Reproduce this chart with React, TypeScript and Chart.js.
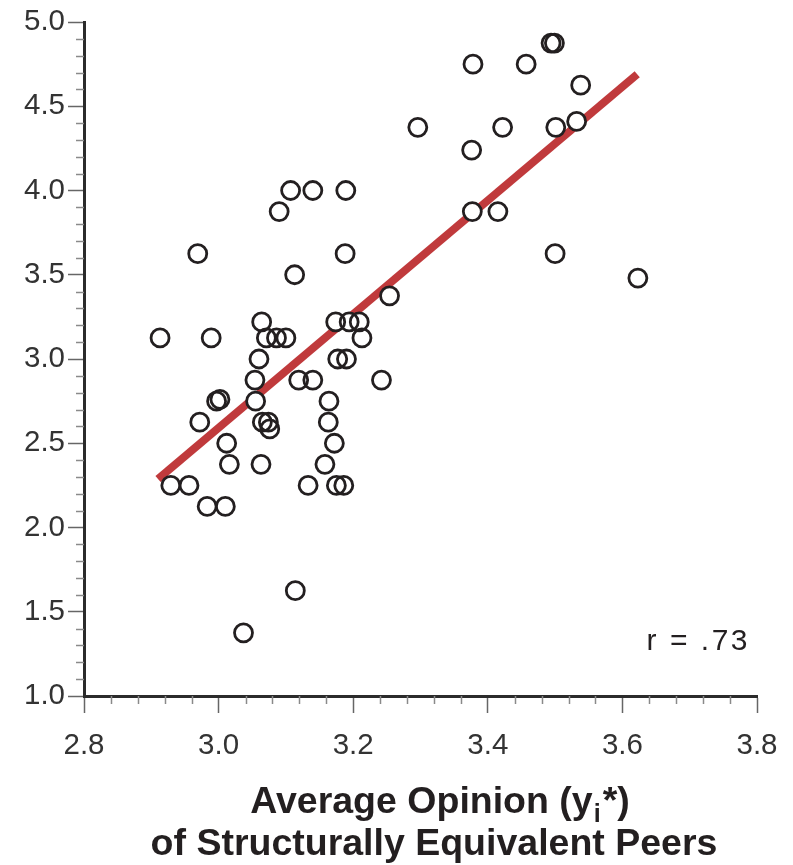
import React, { useEffect, useRef } from "react";
import { Chart, registerables } from "chart.js";

Chart.register(...registerables);

const xValues = [
  3.107, 3.14, 3.189, 3.09, 2.969, 3.188, 3.113, 3.254, 3.064, 2.913,
  2.989, 3.071, 3.086, 3.1, 3.174, 3.194, 3.209, 3.213, 3.06, 3.054,
  2.997, 3.002, 3.055, 2.972, 3.065, 3.074, 3.076, 3.012, 3.016, 3.063,
  2.929, 2.956, 2.983, 3.01, 3.119, 3.14, 3.177, 3.19, 3.242, 3.164,
  3.163, 3.172, 3.158, 3.133, 3.175, 3.186, 3.114, 3.037, 3.494, 3.499,
  3.378, 3.457, 3.538, 3.296, 3.422, 3.501, 3.532, 3.376, 3.377, 3.415,
  3.5, 3.623,
];
const yValues = [
  4.0, 4.0, 4.0, 3.875, 3.625, 3.625, 3.5, 3.375, 3.22, 3.125,
  3.125, 3.125, 3.125, 3.125, 3.22, 3.22, 3.22, 3.125, 3.0, 2.875,
  2.75, 2.76, 2.75, 2.625, 2.625, 2.625, 2.585, 2.5, 2.375, 2.375,
  2.25, 2.25, 2.125, 2.125, 2.875, 2.875, 3.0, 3.0, 2.875, 2.75,
  2.625, 2.5, 2.375, 2.25, 2.25, 2.25, 1.625, 1.375, 4.875, 4.875,
  4.75, 4.75, 4.625, 4.375, 4.375, 4.375, 4.41, 4.24, 3.875, 3.875,
  3.625, 3.48,
];
const fitX = [2.91, 3.622];
const fitY = [2.288, 4.69];

const xTickMin = 2.8;
const xTickMax = 3.8;
const xTickStep = 0.2;
const yTickMin = 1.0;
const yTickMax = 5.0;
const yTickStep = 0.5;

const titleLine1a = "Average Opinion (y";
const titleLine1Sub = "i";
const titleLine1b = "*)";
const titleLine2 = "of Structurally Equivalent Peers";
const rLabel = "r = .73";

const FONT = "'Liberation Sans', Arial, Helvetica, sans-serif";
const INK = "#231f20";

const points = xValues.map((x, i) => ({ x, y: yValues[i] }));
const fitPoints = fitX.map((x, i) => ({ x, y: fitY[i] }));

const extrasPlugin = {
  id: "extras",
  afterDraw(chart: any) {
    const ctx = chart.ctx;
    const xs = chart.scales.x;
    const ys = chart.scales.y;
    const area = chart.chartArea;
    ctx.save();
    // minor ticks
    ctx.strokeStyle = "#8a8a8a";
    ctx.lineWidth = 1.5;
    for (let k = 0; k <= 40; k++) {
      if (k % 5 === 0) continue;
      const v = yTickMin + k * 0.1;
      const py = Math.round(ys.getPixelForValue(v)) + 0.5;
      ctx.beginPath();
      ctx.moveTo(area.left - 8, py);
      ctx.lineTo(area.left, py);
      ctx.stroke();
    }
    for (let k = 0; k <= 25; k++) {
      if (k % 5 === 0) continue;
      const v = xTickMin + k * 0.04;
      const px = Math.round(xs.getPixelForValue(v)) + 0.5;
      ctx.beginPath();
      ctx.moveTo(px, area.bottom);
      ctx.lineTo(px, area.bottom + 8);
      ctx.stroke();
    }
    // r label
    ctx.fillStyle = INK;
    ctx.textAlign = "right";
    ctx.textBaseline = "alphabetic";
    ctx.font = `30px ${FONT}`;
    (ctx as any).letterSpacing = "2.5px";
    ctx.fillText(rLabel, area.right - 7, area.bottom - 46);
    (ctx as any).letterSpacing = "0px";
    // axis title
    ctx.textAlign = "left";
    const cx1 = 440;
    const cx2 = 434;
    ctx.font = `bold 37.5px ${FONT}`;
    const wa = ctx.measureText(titleLine1a).width;
    const wb = ctx.measureText(titleLine1b).width;
    ctx.font = `bold 25px ${FONT}`;
    const ws = ctx.measureText(titleLine1Sub).width;
    let x0 = cx1 - (wa + ws + 3 + wb) / 2;
    const b1 = 813;
    ctx.font = `bold 37.5px ${FONT}`;
    ctx.fillText(titleLine1a, x0, b1);
    x0 += wa;
    ctx.font = `bold 25px ${FONT}`;
    ctx.fillText(titleLine1Sub, x0 + 1, b1 + 9);
    x0 += ws + 3;
    ctx.font = `bold 37.5px ${FONT}`;
    ctx.fillText(titleLine1b, x0, b1);
    ctx.textAlign = "center";
    ctx.fillText(titleLine2, cx2, 855);
    ctx.restore();
  },
};

export default function App() {
  const ref = useRef<HTMLCanvasElement | null>(null);
  useEffect(() => {
    if (!ref.current) return;
    const chart = new Chart(ref.current, {
      type: "scatter",
      data: {
        datasets: [
          {
            type: "line",
            data: fitPoints,
            borderColor: "#c03a3c",
            borderWidth: 8,
            pointRadius: 0,
            fill: false,
            order: 3,
          } as any,
          {
            data: points,
            pointRadius: 9,
            pointBackgroundColor: "#ffffff",
            pointBorderWidth: 0,
            pointBorderColor: "rgba(0,0,0,0)",
            order: 2,
          },
          {
            data: points,
            pointRadius: 9,
            pointBackgroundColor: "rgba(0,0,0,0)",
            pointBorderWidth: 2.8,
            pointBorderColor: INK,
            order: 1,
          },
        ],
      },
      options: {
        responsive: false,
        animation: false,
        events: [],
        layout: { padding: { top: 22, right: 36, left: 0, bottom: 0 } },
        plugins: {
          legend: { display: false },
          tooltip: { enabled: false },
          title: { display: false },
        },
        scales: {
          x: {
            type: "linear",
            min: xTickMin,
            max: xTickMax,
            afterFit: (s: any) => {
              s.height = 169;
            },
            ticks: {
              stepSize: xTickStep,
              padding: 15,
              color: "#333333",
              font: { family: FONT, size: 29.5 },
              callback: (v: any) => Number(v).toFixed(1),
            },
            grid: {
              drawOnChartArea: false,
              drawTicks: true,
              tickLength: 17,
              tickColor: "#666666",
              tickWidth: 1.5,
            },
            border: { display: true, color: "#2b2b2b", width: 3 },
          },
          y: {
            type: "linear",
            min: yTickMin,
            max: yTickMax,
            afterFit: (s: any) => {
              s.width = 84;
            },
            ticks: {
              stepSize: yTickStep,
              padding: 3,
              color: "#333333",
              font: { family: FONT, size: 29.5 },
              callback: (v: any) => Number(v).toFixed(1),
            },
            grid: {
              drawOnChartArea: false,
              drawTicks: true,
              tickLength: 16,
              tickColor: "#666666",
              tickWidth: 1.5,
            },
            border: { display: true, color: "#2b2b2b", width: 3 },
          },
        },
      },
      plugins: [extrasPlugin],
    });
    return () => chart.destroy();
  }, []);
  return (
    <div style={{ position: "fixed", left: 0, top: 0, width: 793, height: 865, background: "#fff" }}>
      <canvas ref={ref} width={793} height={865} />
    </div>
  );
}
